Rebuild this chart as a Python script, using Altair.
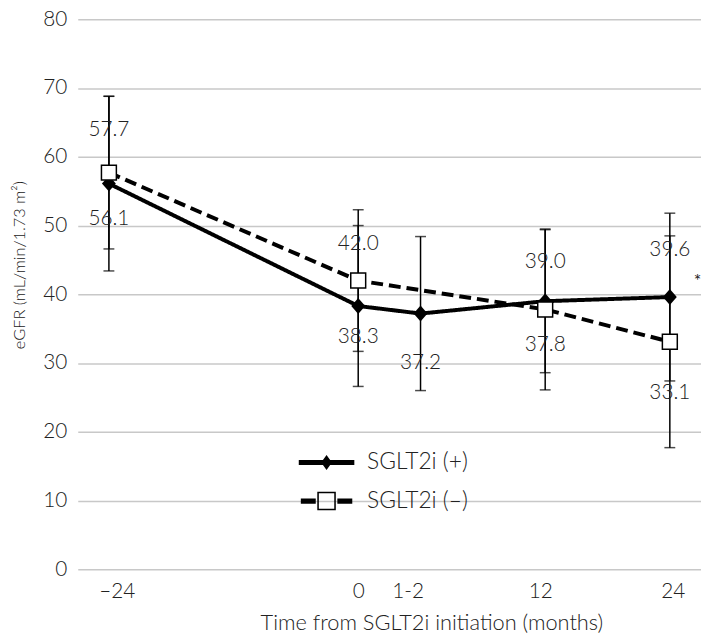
import altair as alt
import pandas as pd

# ---- data ----
timepoints = ["–24", "0", "1-2", "12", "24"]
slots = [0, 4, 5, 7, 9]          # category slots along the (uneven) time axis
groups = ["SGLT2i (+)", "SGLT2i (–)"]
plus_mean = [56.1, 38.3, 37.2, 39.0, 39.6]
plus_sd = [12.7, 11.7, 11.2, 10.4, 12.2]
minus_mean = [57.7, 42.0, None, 37.8, 33.1]
minus_sd = [11.1, 10.3, None, 11.7, 15.4]
y_ticks = [0, 10, 20, 30, 40, 50, 60, 70, 80]
annotation_text = "*"

# label offsets (style, pixels)
plus_label_dy = [36, 31, 50, -40, -48]
minus_label_dy = [-43, -37, 0, 36, 52]
tick_label_shift = [8, 0, -13, -5, 3]

FONT = "Lato"
FW = 300
TXT = "#222222"

rows = []
for g, means, sds, dys in [(groups[0], plus_mean, plus_sd, plus_label_dy),
                           (groups[1], minus_mean, minus_sd, minus_label_dy)]:
    for t, s, m, sd, dy in zip(timepoints, slots, means, sds, dys):
        if m is None:
            continue
        rows.append(dict(group=g, time=t, slot=s, mean=m, lo=m - sd, hi=m + sd,
                         label=f"{m:.1f}", dy=dy))
df = pd.DataFrame(rows)

ann = pd.DataFrame([dict(slot=slots[-1], mean=plus_mean[-1], text=annotation_text)])

label_expr = " : ".join(f"datum.value == {s} ? '{t}'" for s, t in zip(slots, timepoints)) + " : ''"
label_offset = {
    "condition": [{"test": f"datum.value == {s}", "value": o}
                  for s, o in zip(slots, tick_label_shift) if o != 0],
    "value": 0,
}

x_enc = alt.X("slot:Q",
              scale=alt.Scale(domain=[-0.5, 9.5], nice=False, zero=False),
              axis=alt.Axis(values=slots, labelExpr=label_expr, labelOffset=label_offset,
                            title="Time from SGLT2i initiation (months)",
                            grid=False, domain=False, ticks=False, tickSize=0,
                            labelPadding=11, labelFontSize=21, labelFont=FONT,
                            labelFontWeight=FW,
                            labelColor=TXT, labelFlush=False,
                            titleFontSize=22, titleFont=FONT, titleColor=TXT,
                            titleFontWeight=FW,
                            titleX=357.5, titleY=54, titleBaseline="middle"))
y_enc = alt.Y("mean:Q",
              scale=alt.Scale(domain=[0, 80], nice=False),
              axis=alt.Axis(values=y_ticks, title="eGFR (mL/min/1.73 m²)",
                            grid=True, gridColor="#c8c8c8", gridWidth=1.5,
                            domain=False, ticks=False, tickSize=0,
                            labelPadding=11, labelFontSize=21, labelFont=FONT,
                            labelFontWeight=FW, labelColor=TXT,
                            titleFontSize=16.5, titleFont=FONT, titleColor=TXT,
                            titleFontWeight=FW, titlePadding=15,
                            titleY=248))

base = alt.Chart(df)

err_rule = base.mark_rule(color="black", strokeWidth=1.5).encode(
    x=x_enc, y=alt.Y("lo:Q"), y2="hi:Q")
cap_lo = base.mark_tick(orient="horizontal", size=11, thickness=1.5, color="black").encode(
    x=x_enc, y=alt.Y("lo:Q"))
cap_hi = base.mark_tick(orient="horizontal", size=11, thickness=1.5, color="black").encode(
    x=x_enc, y=alt.Y("hi:Q"))

lines = base.mark_line(color="black", strokeWidth=4).encode(
    x=x_enc, y=y_enc,
    strokeDash=alt.StrokeDash("group:N",
                              scale=alt.Scale(domain=groups, range=[[1, 0], [12, 6]]),
                              legend=None))

diamond = "M0,-0.31L0.27,0L0,0.31L-0.27,0Z"
square = "M-0.29,-0.29H0.29V0.29H-0.29Z"

# legend symbols: line + marker drawn as one filled path each
leg_plus = "M-1.08,-0.1H1.08V0.1H-1.08Z M0,-0.29L0.21,0L0,0.29L-0.21,0Z"
leg_minus = ("M-1,-0.1H-0.42V0.1H-1Z M0.42,-0.1H1V0.1H0.42Z "
             "M-0.36,-0.36H0.36V0.36H-0.36Z M-0.3,-0.3V0.3H0.3V-0.3Z")

LEG_X, LEG_Y, LEG_ROW = 225.5, 422, 39


def one_entry_legend(path, row):
    return alt.Legend(orient="none", legendX=LEG_X, legendY=LEG_Y + row * LEG_ROW, title=None,
                      symbolType=path, symbolSize=2704, symbolStrokeWidth=0,
                      symbolFillColor="black",
                      labelFontSize=23, labelFont=FONT, labelFontWeight=FW,
                      labelColor=TXT, labelOffset=15)


pts_plus = base.transform_filter(alt.datum.group == groups[0]).mark_point(
    shape=diamond, filled=True, color="black", size=2704).encode(
    x=x_enc, y=y_enc,
    opacity=alt.Opacity("group:N", scale=alt.Scale(domain=[groups[0]], range=[1]),
                        legend=one_entry_legend(leg_plus, 0)))

# black carrier under the open squares (also carries the second legend entry)
pts_minus_carrier = base.transform_filter(alt.datum.group == groups[1]).mark_point(
    shape=square, filled=True, color="black", size=2704).encode(
    x=x_enc, y=y_enc,
    opacity=alt.Opacity("group:N", scale=alt.Scale(domain=[groups[1]], range=[1]),
                        legend=one_entry_legend(leg_minus, 1)))
pts_minus = base.transform_filter(alt.datum.group == groups[1]).mark_point(
    shape=square, filled=True, fill="white", stroke="black", strokeWidth=1.5,
    size=2704, opacity=1).encode(x=x_enc, y=y_enc)

label_layers = []
for dy in sorted(set(df["dy"])):
    label_layers.append(
        base.transform_filter(alt.datum.dy == int(dy)).mark_text(
            fontSize=21, font=FONT, fontWeight=FW, color=TXT, baseline="middle", dy=int(dy)
        ).encode(x=x_enc, y=y_enc, text="label:N"))

star = alt.Chart(ann).mark_text(fontSize=18, font=FONT, color=TXT, dx=28, dy=-15,
                                baseline="middle").encode(
    x=x_enc, y=y_enc, text="text:N")

chart = alt.layer(err_rule, cap_lo, cap_hi, lines, pts_plus, pts_minus_carrier, pts_minus,
                  *label_layers, star).resolve_scale(
    opacity="independent").resolve_legend(opacity="independent").properties(
    width=630, height=556,
    padding={"left": 70.5, "top": 8, "right": 0, "bottom": 66},
    autosize=alt.AutoSizeParams(type="none"),
).configure_view(stroke=None)

chart.save("out.html", embed_options={"renderer": "svg", "actions": False})
